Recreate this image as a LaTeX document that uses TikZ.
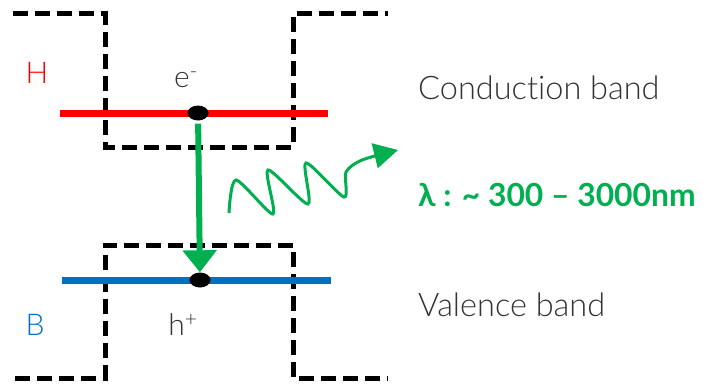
\documentclass[tikz,border=0pt]{standalone}
\usepackage{fontspec}
\usepackage{tikz}
\usetikzlibrary{positioning,arrows.meta,shapes.geometric}
\newfontfamily\lightfont{Lato Light}[Ligatures=NoCommon]
\newfontfamily\latofont{Lato}[Ligatures=NoCommon]
\definecolor{hred}{RGB}{255,0,0}
\definecolor{hblue}{RGB}{0,112,192}
\definecolor{hgreen}{RGB}{0,176,80}

\begin{document}
\begin{tikzpicture}[
          x=1pt, y=1pt,
          lbl/.style={font=\lightfont\fontsize{30}{36}\selectfont, text=black!80, inner sep=0pt},
          biglbl/.style={lbl, anchor=west, font=\lightfont\fontsize{32.5}{38}\selectfont},
          band/.style={line width=5pt, dash pattern=on 15pt off 7pt},
          lvl/.style={line width=7pt},
          dot/.style={ellipse, fill=black, minimum width=21pt, minimum height=15pt, inner sep=0pt},
          arr/.style={-{Triangle[length=22pt,width=33pt]}, line width=6pt, hgreen},
          wave/.style={-{Triangle[length=24pt,width=25pt]}, line width=3pt, hgreen}
      ]
        \useasboundingbox (0,0) rectangle (703,384);
        \draw[band] (13,370) -- (105,370) -- (105,237) -- (293,237) -- (293,370) -- (388,370);
        \draw[band] (15,6) -- (105,6) -- (105,139) -- (293,139) -- (293,6) -- (388,6);
        \draw[lvl, hred] (60,271) -- (328,271);
        \draw[lvl, hblue] (62,104) -- (331,104);
        \node[dot] (eDot) at (198,271) {};
        \node[dot] (hDot) at (200,104) {};
        \node[lbl, text=hred] (hLbl) at (37,311) {H};
        \node[lbl, text=hblue] (bLbl) at (35,59) {B};
        \node[lbl] (eLbl) at (186,304) {e\textsuperscript{-}};
        \node[lbl] (hplus) at (183,59) {h\textsuperscript{+}};
        \node[biglbl] (cband) at (418,296) {Conduction band};
        \node[biglbl] (vband) at (418,79) {Valence band};
        \node[lbl, anchor=west, font=\latofont\bfseries\fontsize{31.8}{38}\selectfont, text=hgreen] (lam) at (418,189) {λ : \textasciitilde{} 300 – 3000nm};
        \draw[arr, shorten <=3pt] (eDot) -- (hDot);
        \coordinate (wStart) at (229,171);
        \coordinate (wEnd) at (398,234);
        \draw[wave] plot[smooth, tension=0.45] coordinates {(wStart) (236,204) (273,170) (268,214) (308,180) (306,221) (344,187) (346,212) (362,224) (wEnd)};
      \end{tikzpicture}
\end{document}
